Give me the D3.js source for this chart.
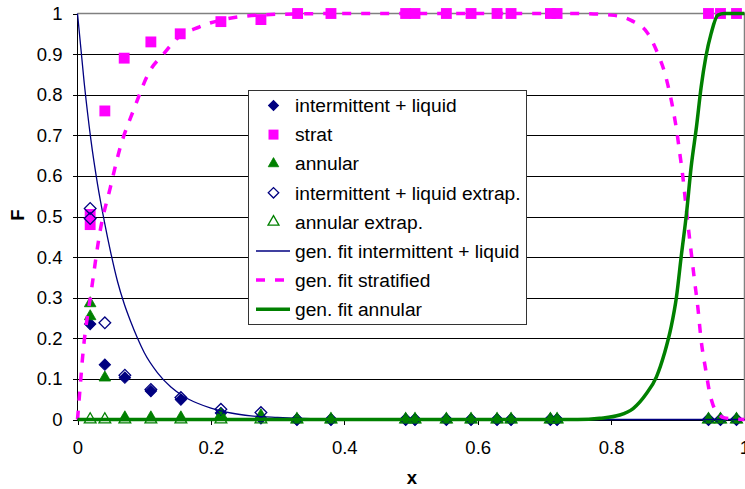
<!DOCTYPE html>
<html>
<head>
<meta charset="utf-8">
<script src="https://cdn.jsdelivr.net/npm/d3@7"></script>
<style>
  html, body { margin: 0; padding: 0; background: #fff; }
  svg { display: block; font-family: "Liberation Sans", Arial, sans-serif; }
</style>
</head>
<body>
<svg id="chart" width="745" height="489"></svg>
<script>
// ---------- data ----------
const yTicks = [0, 0.1, 0.2, 0.3, 0.4, 0.5, 0.6, 0.7, 0.8, 0.9, 1];
const yTickLabels = ["0", "0.1", "0.2", "0.3", "0.4", "0.5", "0.6", "0.7", "0.8", "0.9", "1"];
const xTicks = [0, 0.2, 0.4, 0.6, 0.8, 1];
const xTickLabels = ["0", "0.2", "0.4", "0.6", "0.8", "1"];

// intermittent + liquid (filled diamonds)
const intX = [0.019, 0.041, 0.071, 0.110, 0.155, 0.215, 0.275, 0.329, 0.380, 0.492, 0.506, 0.553, 0.590, 0.629, 0.650, 0.709, 0.719, 0.946, 0.964, 0.988];
const intY = [0.235, 0.135, 0.103, 0.070, 0.049, 0.016, 0.003, 0, 0, 0, 0, 0, 0, 0, 0, 0, 0, 0, 0, 0];

// strat (filled squares)
const stratX = [0.019, 0.019, 0.041, 0.070, 0.110, 0.154, 0.215, 0.275, 0.330, 0.380, 0.492, 0.506, 0.553, 0.590, 0.629, 0.650, 0.709, 0.719, 0.946, 0.964, 0.988];
const stratY = [0.505, 0.48, 0.76, 0.89, 0.93, 0.95, 0.98, 0.985, 1, 1, 1, 1, 1, 1, 1, 1, 1, 1, 1, 1, 1];

// annular (filled triangles)
const annX = [0.019, 0.019, 0.041, 0.071, 0.110, 0.155, 0.215, 0.275, 0.329, 0.380, 0.492, 0.506, 0.553, 0.590, 0.629, 0.650, 0.709, 0.719, 0.946, 0.964, 0.988];
const annY = [0.286, 0.254, 0.103, 0.005, 0.005, 0.005, 0.012, 0.01, 0, 0, 0, 0, 0, 0, 0, 0, 0, 0, 0, 0, 0];

// intermittent + liquid extrap. (open diamonds)
const intExX = [0.019, 0.019, 0.041, 0.071, 0.110, 0.155, 0.215, 0.275, 0.329, 0.380, 0.492, 0.506, 0.553, 0.590, 0.629, 0.650, 0.709, 0.719, 0.946, 0.964, 0.988];
const intExY = [0.52, 0.495, 0.238, 0.109, 0.074, 0.054, 0.025, 0.017, 0, 0, 0, 0, 0, 0, 0, 0, 0, 0, 0, 0, 0];

// annular extrap. (open triangles)
const annExX = [0.019, 0.041, 0.071, 0.110, 0.155, 0.215, 0.275, 0.329, 0.380, 0.492, 0.506, 0.553, 0.590, 0.629, 0.650, 0.709, 0.719, 0.946, 0.964, 0.988];
const annExY = [0, 0, 0, 0, 0, 0, 0, 0, 0, 0, 0, 0, 0, 0, 0, 0, 0, 0, 0, 0];

// gen. fit intermittent + liquid
const fitIntX = [0, 0.01, 0.02, 0.03, 0.04, 0.05, 0.06, 0.07, 0.08, 0.09, 0.10, 0.12, 0.14, 0.16, 0.18, 0.20, 0.23, 0.26, 0.30, 0.35, 0.40, 0.50, 1.0];
const fitIntY = [1, 0.83, 0.69, 0.58, 0.49, 0.41, 0.34, 0.285, 0.24, 0.20, 0.165, 0.115, 0.08, 0.056, 0.04, 0.028, 0.016, 0.009, 0.005, 0.002, 0.001, 0, 0];

// gen. fit stratified
const fitStratX = [0, 0.003, 0.008, 0.021, 0.034, 0.049, 0.064, 0.084, 0.109, 0.129, 0.149, 0.183, 0.243, 0.30, 0.40, 0.75, 0.80, 0.83, 0.855, 0.87, 0.88, 0.888, 0.894, 0.899, 0.903, 0.907, 0.912, 0.917, 0.922, 0.925, 0.930, 0.935, 0.942, 0.948, 0.953, 0.96, 0.97, 1.0];
const fitStratY = [0, 0.06, 0.16, 0.32, 0.465, 0.57, 0.67, 0.762, 0.86, 0.90, 0.938, 0.967, 0.992, 0.998, 1, 1, 0.996, 0.983, 0.951, 0.901, 0.856, 0.803, 0.754, 0.704, 0.655, 0.606, 0.53, 0.455, 0.385, 0.343, 0.277, 0.195, 0.121, 0.064, 0.035, 0.015, 0.004, 0];

// gen. fit annular
const fitAnnX = [0, 0.75, 0.783, 0.813, 0.833, 0.853, 0.868, 0.880, 0.890, 0.898, 0.905, 0.913, 0.920, 0.928, 0.935, 0.942, 0.950, 0.960, 0.97, 1.0];
const fitAnnY = [0, 0, 0.003, 0.011, 0.027, 0.064, 0.105, 0.163, 0.228, 0.302, 0.40, 0.507, 0.622, 0.721, 0.819, 0.893, 0.951, 0.996, 1, 1];

const legendLabels = ["intermittent + liquid", "strat", "annular", "intermittent + liquid extrap.", "annular extrap.", "gen. fit intermittent + liquid", "gen. fit stratified", "gen. fit annular"];

// ---------- setup ----------
const NAVY = "#000080", MAG = "#ff00ff", GREEN = "#008000";
const FS = "18.5px", LFS = "19.2px";
const svg = d3.select("#chart");
const x = d3.scaleLinear().domain([0, 1]).range([77.5, 744.5]);
const y = d3.scaleLinear().domain([0, 1]).range([419.5, 13.5]);

// gridlines
svg.append("g").selectAll("line").data(yTicks.filter(v => v < 1)).join("line")
  .attr("x1", x(0)).attr("x2", x(1)).attr("y1", d => Math.round(y(d)) + 0.5).attr("y2", d => Math.round(y(d)) + 0.5)
  .attr("stroke", "#000").attr("stroke-width", 1);
// plot border (top + right) grey
svg.append("path")
  .attr("d", `M${x(0)},${y(1)}H${x(1)}V${y(0)}`)
  .attr("fill", "none").attr("stroke", "#808080").attr("stroke-width", 1.5);

// axes
const yAxis = d3.axisLeft(y).tickValues(yTicks).tickFormat((d, i) => yTickLabels[i]).tickSize(5).tickPadding(10);
const gy = svg.append("g").attr("transform", `translate(${x(0)},0)`).call(yAxis);
const xAxis = d3.axisBottom(x).tickValues(xTicks).tickFormat((d, i) => xTickLabels[i]).tickSize(5).tickPadding(16);
const gx = svg.append("g").attr("transform", `translate(0,${y(0)})`).call(xAxis);
[gx, gy].forEach(g => {
  g.selectAll("path.domain").attr("stroke", "#000").attr("shape-rendering", "crispEdges");
  g.selectAll(".tick line").attr("stroke", "#000").attr("shape-rendering", "crispEdges");
  g.selectAll("text").attr("font-size", FS).attr("font-family", "'Liberation Sans', Arial, sans-serif").attr("fill", "#000");
});
gy.select("path.domain").attr("d", `M0,${y(0)}V${y(1)}`);
gx.select("path.domain").attr("d", `M${x(0)},0H${x(1)}`);

// axis titles
svg.append("text").attr("transform", "translate(24,215) rotate(-90)").attr("text-anchor", "middle")
  .attr("font-weight", "bold").attr("font-size", FS).text("F");
svg.append("text").attr("x", 412).attr("y", 483.5).attr("text-anchor", "middle")
  .attr("font-weight", "bold").attr("font-size", FS).text("x");

// marker helpers
const diamondPath = d3.symbol().type(d3.symbolSquare).size(64)();
const diamondOpenPath = d3.symbol().type(d3.symbolSquare).size(68)();
const squarePath = d3.symbol().type(d3.symbolSquare).size(118)();
const triPath = d3.symbol().type(d3.symbolTriangle).size(58)();
const triOpenPath = d3.symbol().type(d3.symbolTriangle).size(60)();

function drawMarkers(xs, ys, path, rot, fill, stroke, sw) {
  const pts = xs.map((v, i) => [v, ys[i]]);
  svg.append("g").selectAll("path").data(pts).join("path")
    .attr("d", path)
    .attr("transform", d => `translate(${x(d[0])},${y(d[1])}) rotate(${rot})`)
    .attr("fill", fill).attr("stroke", stroke).attr("stroke-width", sw);
}
drawMarkers(intX, intY, diamondPath, 45, NAVY, NAVY, 1);
drawMarkers(stratX, stratY, squarePath, 0, MAG, "none", 0);
drawMarkers(annX, annY, triPath, 0, GREEN, GREEN, 0.8);
drawMarkers(intExX, intExY, diamondOpenPath, 45, "none", NAVY, 1.3);
drawMarkers(annExX, annExY, triOpenPath, 0, "none", GREEN, 1.3);

// fit lines
const line = d3.line().x(d => x(d[0])).y(d => y(d[1])).curve(d3.curveMonotoneX);
const zip = (a, b) => a.map((v, i) => [v, b[i]]);
svg.append("path").datum(zip(fitIntX, fitIntY)).attr("d", line)
  .attr("fill", "none").attr("stroke", NAVY).attr("stroke-width", 1.3);
svg.append("path").datum(zip(fitStratX, fitStratY)).attr("d", line)
  .attr("fill", "none").attr("stroke", MAG).attr("stroke-width", 3.5).attr("stroke-dasharray", "9,10");
svg.append("path").datum(zip(fitAnnX, fitAnnY)).attr("d", line)
  .attr("fill", "none").attr("stroke", GREEN).attr("stroke-width", 3.5);

// legend
const lg = svg.append("g");
lg.append("rect").attr("x", 248.5).attr("y", 90.5).attr("width", 278).attr("height", 234)
  .attr("fill", "#fff").attr("stroke", "#333").attr("stroke-width", 1.2).attr("shape-rendering", "crispEdges");
const ly0 = 105.5, ldy = 29.1, mx = 273.5, tx = 295;
legendLabels.forEach((lab, i) => {
  const cy = ly0 + i * ldy;
  lg.append("text").attr("x", tx).attr("y", cy).attr("dy", "0.35em").attr("font-size", LFS).attr("fill", "#000").text(lab);
});
const lm = (i, path, rot, fill, stroke, sw) => lg.append("path").attr("d", path)
  .attr("transform", `translate(${mx},${ly0 + i * ldy}) rotate(${rot})`)
  .attr("fill", fill).attr("stroke", stroke).attr("stroke-width", sw);
lm(0, d3.symbol().type(d3.symbolSquare).size(50)(), 45, NAVY, NAVY, 1);
lm(1, d3.symbol().type(d3.symbolSquare).size(100)(), 0, MAG, "none", 0);
lm(2, d3.symbol().type(d3.symbolTriangle).size(48)(), 0, GREEN, GREEN, 0.8);
lm(3, d3.symbol().type(d3.symbolSquare).size(55)(), 45, "none", NAVY, 1.3);
lm(4, d3.symbol().type(d3.symbolTriangle).size(52)(), 0, "none", GREEN, 1.3);
const ll = (i, stroke, sw, dash) => lg.append("line").attr("x1", 256).attr("x2", 290)
  .attr("y1", ly0 + i * ldy).attr("y2", ly0 + i * ldy)
  .attr("stroke", stroke).attr("stroke-width", sw).attr("stroke-dasharray", dash);
ll(5, NAVY, 1.3, null);
ll(6, MAG, 3.5, "9,10");
ll(7, GREEN, 3.5, null);
</script>
</body>
</html>
